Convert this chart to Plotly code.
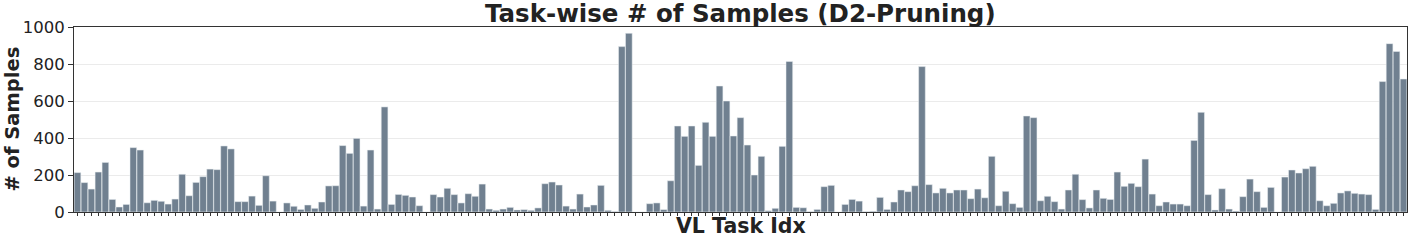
import plotly.graph_objects as go

samples_1 = [213, 159, 124, 216, 268, 68, 27, 41, 348, 335, 50, 63, 58, 43, 70, 204, 88, 160, 191, 232,
             229, 357, 341, 56, 56, 86, 36, 196, 59, 0, 49, 31, 14]
samples_2 = [38, 20, 54, 141, 142, 359, 317, 398, 32, 335, 16, 568, 41, 95, 90, 81, 34, 0, 94, 81,
             128, 94, 49, 99, 85, 151, 16, 9, 16, 25, 11, 13]
samples_3 = [9, 22, 153, 162, 146, 32, 16, 97, 27, 38, 144, 9, 3, 894, 966, 0, 0, 45, 49, 13,
             169, 465, 409, 465, 252, 485, 409, 681, 600, 411, 510, 362, 200]
samples_4 = [301, 7, 20, 355, 814, 25, 23, 2, 14, 137, 144, 0, 41, 68, 59, 2, 4, 79, 14, 54,
             119, 110, 142, 786, 148, 103, 128, 103, 119, 119, 72, 124, 77]
samples_5 = [301, 34, 112, 45, 25, 519, 510, 61, 85, 56, 16, 119, 204, 67, 22, 119, 74, 68, 216, 139,
             155, 137, 286, 97, 34, 54, 43, 43, 34, 387, 539, 94, 11]
samples_6 = [126, 16, 5, 83, 178, 110, 25, 133, 0, 189, 227, 211, 234, 247, 61, 34, 47, 103, 114, 101,
             97, 94, 14, 705, 910, 868, 719]

num_samples = samples_1 + samples_2 + samples_3 + samples_4 + samples_5 + samples_6
task_idx = list(range(len(num_samples)))
y_ticks = [0, 200, 400, 600, 800, 1000]

TITLE = "Task-wise # of Samples (D2-Pruning)"
X_TITLE = "VL Task Idx"
Y_TITLE = "# of Samples"

FONT = "DejaVu Sans"
BAR = "#708090"
TXT = "#222222"

fig = go.Figure(go.Bar(
    x=task_idx, y=num_samples,
    marker=dict(color=BAR, line=dict(color="rgba(235,238,242,0.9)", width=0.6)),
))

fig.update_layout(
    width=1411, height=242,
    margin=dict(l=74, r=4, t=27, b=30),
    paper_bgcolor="white", plot_bgcolor="white",
    bargap=0.04,
    showlegend=False,
    font=dict(family=FONT, color=TXT),
    annotations=[
        dict(text="<b>" + TITLE + "</b>", xref="paper", yref="paper", x=0.5, y=1.073,
             xanchor="center", yanchor="middle", showarrow=False,
             font=dict(family=FONT, size=24.5, color=TXT)),
        dict(text="<b>" + X_TITLE + "</b>", xref="paper", yref="paper", x=0.5, y=-0.078,
             xanchor="center", yanchor="middle", showarrow=False,
             font=dict(family=FONT, size=20.5, color=TXT)),
        dict(text="<b>" + Y_TITLE + "</b>", xref="paper", yref="paper", x=-0.0465, y=0.5,
             xanchor="center", yanchor="middle", showarrow=False, textangle=-90,
             font=dict(family=FONT, size=19.5, color=TXT)),
    ],
)

fig.update_xaxes(
    range=[-0.5, len(num_samples) - 0.5],
    showticklabels=False, automargin=False,
    tickmode="linear", tick0=0, dtick=1,
    ticks="outside", ticklen=3, tickwidth=1, tickcolor="#333333",
    showline=True, linecolor="#333333", linewidth=1, mirror=True,
    showgrid=False, zeroline=False,
)

fig.update_yaxes(
    range=[0, 1000], automargin=False,
    tickmode="array", tickvals=y_ticks, ticktext=[str(v) for v in y_ticks],
    tickfont=dict(family=FONT, size=16.5, color=TXT),
    ticks="outside", ticklen=5, tickwidth=1, tickcolor="#333333",
    showline=True, linecolor="#333333", linewidth=1, mirror=True,
    showgrid=True, gridcolor="#ebebeb", gridwidth=1,
    zeroline=False,
)

fig.write_html("out.html",
               config={"displayModeBar": False},
               post_script="document.body.style.margin='0';document.body.style.overflow='hidden';")
